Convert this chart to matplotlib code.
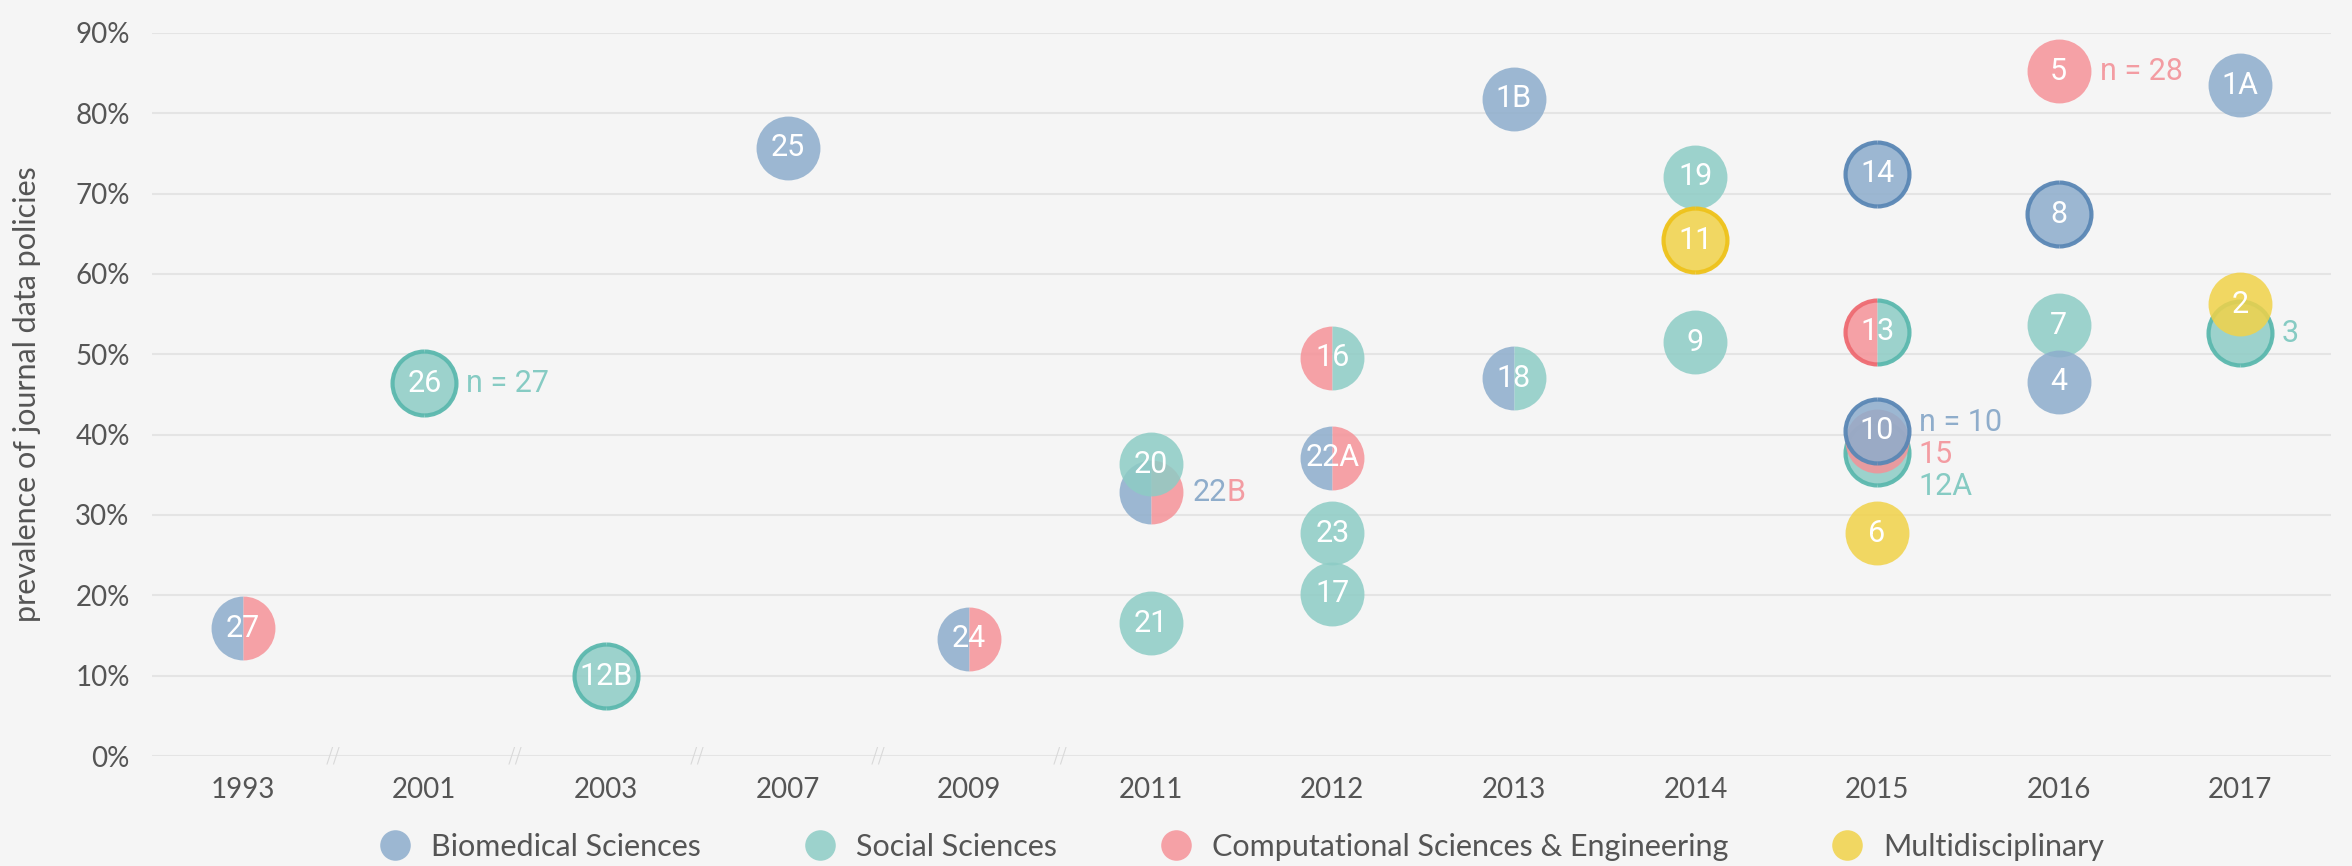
import matplotlib
matplotlib.use("Agg")
import matplotlib.pyplot as plt
from matplotlib.path import Path
from matplotlib.lines import Line2D

years = ["1993", "2001", "2003", "2007", "2009", "2011", "2012", "2013", "2014", "2015", "2016", "2017"]
categories = ["Biomedical Sciences", "Social Sciences", "Computational Sciences & Engineering", "Multidisciplinary"]
cat_codes = ["B", "S", "C", "M"]

# one entry per study, in drawing order
study_labels = ["27", "26", "12B", "25", "24", "22B", "20", "21", "16", "22A", "23", "17",
                "1B", "18", "19", "11", "9", "14", "13", "12A", "15", "10", "6",
                "5", "8", "7", "4", "1A", "3", "2"]
study_years = ["1993", "2001", "2003", "2007", "2009", "2011", "2011", "2011", "2012", "2012", "2012", "2012",
               "2013", "2013", "2014", "2014", "2014", "2015", "2015", "2015", "2015", "2015", "2015",
               "2016", "2016", "2016", "2016", "2017", "2017", "2017"]
study_values = [15.9, 46.4, 9.9, 75.7, 14.6, 32.8, 36.3, 16.5, 49.6, 37.1, 27.7, 20.2,
                81.8, 47.0, 72.1, 64.2, 51.5, 72.5, 52.8, 37.7, 39.2, 40.5, 27.7,
                85.2, 67.4, 53.6, 46.6, 83.5, 52.6, 56.2]
# discipline of left / right half of each circle
study_left = ["B", "S", "S", "B", "B", "B", "S", "S", "C", "B", "S", "S",
              "B", "B", "S", "M", "S", "B", "C", "S", "C", "B", "M",
              "C", "B", "S", "B", "B", "S", "M"]
study_right = ["C", "S", "S", "B", "C", "C", "S", "S", "S", "C", "S", "S",
               "B", "S", "S", "M", "S", "B", "S", "S", "C", "B", "M",
               "C", "B", "S", "B", "B", "S", "M"]
outlined = ["26", "12B", "11", "14", "13", "12A", "10", "8", "3"]
# studies whose number is written beside the circle instead of inside
labelled_outside = ["22B", "15", "12A", "3"]

# side notes: (study, text, colour code)
notes = [("26", "n = 27", "S"), ("10", "n = 10", "B"), ("15", "15", "C"),
         ("12A", "12A", "S"), ("5", "n = 28", "C"), ("3", "3", "S")]

face = {"B": "#8DADCC", "S": "#8DCCC5", "C": "#F59298", "M": "#F1D248"}
edge = {"B": "#5A87B5", "S": "#5BB8AE", "C": "#EE6B72", "M": "#EEC21A"}
text_col = {"B": "#8FADCB", "S": "#86CBC3", "C": "#F39CA2", "M": "#F1D55A"}
bg = "#F5F5F5"
ALPHA = 0.85
MS = 46
FS = 22
rfont = ["Roboto", "DejaVu Sans"]

plt.rcParams["font.family"] = ["Lato", "DejaVu Sans"]

fig = plt.figure(figsize=(23.52, 8.66), dpi=100, facecolor=bg)
ax = fig.add_axes([0.0646, 0.127, 0.9265, 0.835])
ax.set_facecolor(bg)

xpos = {y: i for i, y in enumerate(years)}
left_arc = Path.arc(90, 270)
right_arc = Path.arc(-90, 90)

for lab, yr, val, lc, rc in zip(study_labels, study_years, study_values, study_left, study_right):
    x = xpos[yr]
    if lc == rc:
        ax.plot(x, val, marker="o", markersize=MS, markerfacecolor=face[lc], markeredgewidth=0,
                alpha=ALPHA, linestyle="", clip_on=False, zorder=3)
    else:
        ax.plot(x, val, marker="o", markersize=MS, fillstyle="left", markerfacecolor=face[lc],
                markerfacecoloralt=face[rc], markeredgewidth=0, alpha=ALPHA, linestyle="",
                clip_on=False, zorder=3)
    if lab in outlined:
        ax.plot(x, val, marker=left_arc, markersize=MS, markerfacecolor="none",
                markeredgecolor=edge[lc], markeredgewidth=3, alpha=0.95, linestyle="",
                clip_on=False, zorder=3)
        ax.plot(x, val, marker=right_arc, markersize=MS, markerfacecolor="none",
                markeredgecolor=edge[rc], markeredgewidth=3, alpha=0.95, linestyle="",
                clip_on=False, zorder=3)
    if lab not in labelled_outside:
        ax.text(x, val, lab, ha="center", va="center", color="white", fontsize=FS,
                family=rfont, zorder=4)

note_dy = {"n = 10": 6, "15": -9.5, "12A": -24}
for sid, txt, c in notes:
    i = study_labels.index(sid)
    ax.annotate(txt, (xpos[study_years[i]], study_values[i]), xytext=(30, note_dy.get(txt, 0)),
                textcoords="offset points", ha="left", va="center", color=text_col[c],
                fontsize=FS, family=rfont, annotation_clip=False, zorder=4)

# two-coloured note "22B"
i = study_labels.index("22B")
p = (xpos[study_years[i]], study_values[i])
t1 = ax.annotate("22", p, xytext=(30, 0), textcoords="offset points", ha="left", va="center",
                 color=text_col["B"], fontsize=FS, family=rfont, zorder=4)
fig.canvas.draw()
w = t1.get_window_extent().width * 72 / fig.dpi
ax.annotate("B", p, xytext=(30 + w, 0), textcoords="offset points", ha="left", va="center",
            color=text_col["C"], fontsize=FS, family=rfont, zorder=4)

# axis break marks between the early, unevenly spaced years
for k in range(5):
    ax.text(k + 0.5, 0, "//", ha="center", va="center", color="#D9D9D9", fontsize=16,
            family=["DejaVu Sans"], fontweight="light", zorder=2)

ax.set_xlim(-0.5, 11.5)
ax.set_ylim(0, 90)
ax.set_xticks(range(len(years)))
ax.set_xticklabels(years)
ax.set_yticks(range(0, 91, 10))
ax.set_yticklabels([f"{v}%" for v in range(0, 91, 10)])
ax.tick_params(length=0, labelsize=20, labelcolor="#555555")
ax.tick_params(axis="x", pad=15)
ax.tick_params(axis="y", pad=16)
ax.grid(axis="y", color="#E4E4E4", linewidth=1.5, zorder=0)
ax.set_axisbelow(True)
for s in ax.spines.values():
    s.set_visible(False)

ax.set_ylabel("prevalence of journal data policies", fontsize=22, color="#555555")
ax.yaxis.set_label_coords(-0.051, 0.5)

handles = [Line2D([], [], marker="o", linestyle="", markersize=22, markerfacecolor=face[c],
                  markeredgewidth=0, alpha=ALPHA) for c in cat_codes]
fig.legend(handles, categories, loc="center", bbox_to_anchor=(0.528, 1 - 847 / 866), ncol=4,
           frameon=False, fontsize=22, labelcolor="#555555", handlelength=1.0,
           handletextpad=0.68, columnspacing=3.4)

fig.savefig("out.png", dpi=100, facecolor=bg)
